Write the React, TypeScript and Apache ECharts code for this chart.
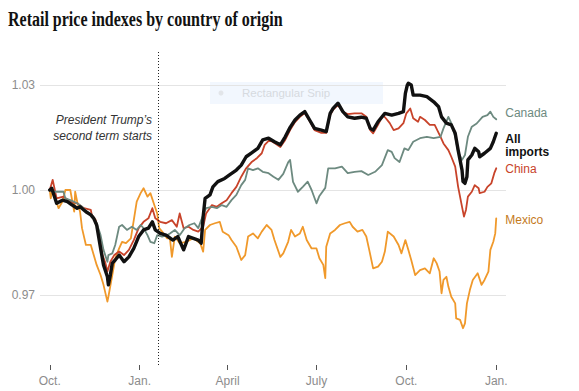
import React, { useEffect, useRef } from "react";
import * as echarts from "echarts";

// Day 0 = Oct. 1, 2024
const TITLE = "Retail price indexes by country of origin";
const ANNOTATION_LINES = ["President Trump’s", "second term starts"];
const INAUGURATION_DAY = 111; // Jan. 20, 2025
const xTickDays = [0, 92, 182, 273, 365, 457];
const xTickLabels = ["Oct.", "Jan.", "April", "July", "Oct.", "Jan."];
const yTickValues = [0.97, 1.0, 1.03];
const yTickLabels = ["0.97", "1.00", "1.03"];

const allImports: [number, number][] = [
  [0, 1.0], [2, 1.0005], [7, 0.9962], [13, 0.9971], [18, 0.9967], [23, 0.9957], [28, 0.9948], [31, 0.9952],
  [37, 0.9938], [42, 0.9929], [45, 0.9919], [48, 0.99], [52, 0.9834], [55, 0.9786], [59, 0.9752], [60, 0.9729],
  [62, 0.9757], [64, 0.9791], [67, 0.98], [71, 0.9814], [76, 0.9795], [81, 0.9809], [86, 0.9833], [91, 0.9867],
  [96, 0.9886], [101, 0.9891], [105, 0.9909], [108, 0.9886], [113, 0.9876], [119, 0.9871], [126, 0.9857],
  [131, 0.9867], [137, 0.9829], [142, 0.9867], [147, 0.9862], [152, 0.9857], [155, 0.9848], [157, 0.9924],
  [159, 0.9976], [164, 0.9986], [167, 1.0009], [172, 1.0024], [179, 1.0033], [184, 1.0043], [191, 1.0057],
  [196, 1.0071], [201, 1.0095], [207, 1.0107], [213, 1.0119], [218, 1.0143], [224, 1.0148], [230, 1.0138],
  [236, 1.0129], [241, 1.0152], [246, 1.0179], [251, 1.02], [256, 1.0214], [261, 1.0224], [266, 1.02],
  [271, 1.0176], [278, 1.0171], [283, 1.0167], [287, 1.0219], [290, 1.0233], [295, 1.0248], [300, 1.0224],
  [305, 1.0209], [312, 1.0205], [319, 1.0208], [324, 1.0205], [328, 1.0176], [331, 1.0171], [336, 1.0195],
  [343, 1.0219], [350, 1.0214], [357, 1.0219], [362, 1.0224], [364, 1.0276], [366, 1.03], [367, 1.0305],
  [370, 1.03], [372, 1.0271], [379, 1.0271], [386, 1.0267], [393, 1.0252], [398, 1.0238], [401, 1.0209],
  [406, 1.0191], [411, 1.0186], [415, 1.0162], [418, 1.0114], [422, 1.0057], [423, 1.0024], [425, 1.0019],
  [427, 1.0038], [428, 1.0086], [432, 1.01], [435, 1.0119], [439, 1.0109], [440, 1.0095], [445, 1.0105],
  [451, 1.0119], [454, 1.0138], [457, 1.0162],
];

const china: [number, number][] = [
  [0, 1.0], [3, 1.0029], [7, 0.9976], [14, 0.9981], [21, 0.9967], [28, 0.9962], [35, 0.9948], [42, 0.9943],
  [43, 0.9929], [47, 0.9914], [50, 0.9881], [54, 0.9814], [57, 0.9791], [59, 0.9767], [62, 0.9795], [66, 0.9814],
  [71, 0.9824], [76, 0.9814], [81, 0.9829], [86, 0.9857], [91, 0.9891], [96, 0.9909], [101, 0.9919], [105, 0.9948],
  [108, 0.9919], [113, 0.9909], [119, 0.9905], [125, 0.9914], [130, 0.9895], [133, 0.9933], [137, 0.9891],
  [142, 0.9895], [147, 0.9886], [152, 0.9881], [157, 0.9895], [160, 0.9933], [166, 0.9957], [171, 0.9952],
  [176, 0.9962], [181, 0.9971], [186, 0.9991], [191, 1.0009], [196, 1.0038], [201, 1.0062], [207, 1.0081],
  [212, 1.0091], [217, 1.0105], [220, 1.0129], [225, 1.0143], [230, 1.0134], [236, 1.0123], [241, 1.0143],
  [246, 1.0171], [251, 1.0194], [256, 1.0209], [261, 1.022], [266, 1.0197], [271, 1.0171], [278, 1.0163],
  [283, 1.0163], [287, 1.0214], [290, 1.0229], [295, 1.0243], [300, 1.0223], [305, 1.0217], [312, 1.0219],
  [319, 1.0219], [324, 1.0209], [328, 1.0171], [331, 1.0162], [336, 1.0186], [341, 1.0214], [344, 1.0205],
  [348, 1.0191], [352, 1.0171], [357, 1.0176], [362, 1.0191], [365, 1.0219], [369, 1.0233], [372, 1.0205],
  [377, 1.0195], [379, 1.0209], [384, 1.02], [389, 1.0186], [394, 1.0186], [400, 1.0152], [403, 1.0133],
  [408, 1.0114], [411, 1.0095], [415, 1.0067], [418, 1.0009], [422, 0.9952], [424, 0.9924], [426, 0.9943],
  [428, 0.9981], [432, 0.9995], [435, 1.0014], [439, 1.0005], [440, 0.9991], [445, 0.9995], [448, 1.0009],
  [452, 1.0019], [455, 1.0048], [457, 1.0062],
];

const canada: [number, number][] = [
  [0, 1.0], [4, 0.9995], [14, 0.9995], [16, 0.9976], [21, 0.9971], [28, 0.9962], [33, 0.9952], [38, 0.9938],
  [43, 0.9929], [48, 0.9905], [52, 0.9871], [55, 0.9829], [59, 0.9795], [60, 0.9814], [64, 0.9819], [67, 0.9843],
  [71, 0.9895], [74, 0.99], [79, 0.9886], [84, 0.9895], [89, 0.9886], [93, 0.99], [96, 0.9891], [100, 0.9871],
  [103, 0.9852], [107, 0.9848], [110, 0.9871], [115, 0.9867], [120, 0.9871], [123, 0.9876], [128, 0.9886],
  [133, 0.9871], [138, 0.9891], [143, 0.99], [148, 0.9905], [152, 0.9891], [155, 0.9914], [160, 0.9948],
  [166, 0.9952], [171, 0.9948], [176, 0.9957], [181, 0.9952], [186, 0.9971], [191, 0.9986], [196, 1.0014],
  [200, 1.0029], [203, 1.0062], [208, 1.0057], [213, 1.0062], [218, 1.0052], [224, 1.0048], [229, 1.0038],
  [234, 1.0029], [239, 1.0046], [244, 1.0079], [246, 1.0086], [249, 1.0023], [254, 0.9995], [259, 1.0009],
  [264, 1.0024], [268, 1.0], [273, 0.9962], [276, 0.9983], [282, 1.0006], [285, 1.0062], [292, 1.0062],
  [299, 1.0067], [305, 1.0048], [312, 1.0052], [319, 1.0054], [326, 1.0043], [333, 1.0052], [340, 1.0071],
  [346, 1.0114], [350, 1.0109], [353, 1.0091], [358, 1.008], [363, 1.0119], [367, 1.0114], [372, 1.0138],
  [379, 1.0148], [386, 1.0152], [393, 1.0148], [400, 1.0152], [403, 1.0176], [408, 1.0209], [411, 1.0191],
  [415, 1.0152], [418, 1.0109], [422, 1.0086], [425, 1.01], [428, 1.0152], [432, 1.0181], [437, 1.019],
  [443, 1.0209], [448, 1.0214], [451, 1.0224], [454, 1.0209], [457, 1.0202],
];

const mexico: [number, number][] = [
  [0, 1.0], [1, 0.9976], [3, 1.0], [9, 0.9948], [13, 0.9967], [16, 1.0], [21, 1.0], [25, 0.9938], [26, 0.9995],
  [28, 0.9967], [31, 0.9938], [33, 0.9891], [37, 0.9843], [42, 0.9843], [45, 0.9814], [48, 0.9786], [52, 0.9757],
  [55, 0.9729], [59, 0.9681], [60, 0.9695], [64, 0.9757], [67, 0.9805], [71, 0.9833], [74, 0.9852], [78, 0.9848],
  [83, 0.9862], [86, 0.9914], [89, 0.9967], [93, 0.9991], [96, 1.0005], [100, 0.9981], [103, 0.9991],
  [107, 0.9957], [110, 0.9933], [112, 0.9891], [115, 0.9881], [120, 0.9862], [123, 0.9862], [125, 0.9809],
  [128, 0.9867], [133, 0.9848], [140, 0.9852], [147, 0.9862], [154, 0.9848], [157, 0.9824], [159, 0.9886],
  [164, 0.99], [169, 0.9905], [174, 0.9909], [177, 0.9881], [183, 0.9871], [186, 0.9857], [191, 0.9838],
  [196, 0.98], [200, 0.9814], [203, 0.9867], [208, 0.9876], [213, 0.9862], [217, 0.9881], [222, 0.99],
  [227, 0.9886], [230, 0.9857], [236, 0.9809], [239, 0.9819], [244, 0.9852], [247, 0.9886], [251, 0.9867],
  [256, 0.9876], [259, 0.9895], [263, 0.9857], [268, 0.9833], [273, 0.9833], [276, 0.9805], [280, 0.9786],
  [282, 0.9748], [283, 0.9838], [287, 0.9876], [292, 0.9886], [297, 0.99], [302, 0.9905], [307, 0.9909],
  [310, 0.9895], [315, 0.9881], [320, 0.9886], [324, 0.9867], [327, 0.9829], [331, 0.9776], [336, 0.9781],
  [340, 0.9795], [343, 0.9824], [346, 0.9881], [352, 0.9867], [357, 0.9843], [360, 0.9819], [364, 0.9857],
  [367, 0.9829], [370, 0.98], [374, 0.9757], [379, 0.9771], [384, 0.9776], [389, 0.9762], [393, 0.9805],
  [396, 0.9791], [399, 0.9767], [401, 0.9705], [403, 0.9743], [406, 0.9752], [408, 0.9724], [411, 0.9695],
  [415, 0.9676], [416, 0.9633], [420, 0.9629], [423, 0.9605], [425, 0.9619], [427, 0.9676], [430, 0.9714],
  [433, 0.9743], [438, 0.9762], [442, 0.9729], [445, 0.9743], [449, 0.9767], [451, 0.9829], [454, 0.9852],
  [456, 0.9876], [457, 0.9919],
];

const SANS = '"Liberation Sans", Arial, sans-serif';

export default function App() {
  const ref = useRef<HTMLDivElement>(null);

  useEffect(() => {
    if (!ref.current) return;
    const chart = echarts.init(ref.current, undefined, { renderer: "svg" });

    const lineSeries = (
      name: string,
      data: [number, number][],
      color: string,
      width: number,
      labelColor: string,
      labelText: string,
      offsetY: number,
      bold: boolean,
      z: number
    ) => ({
      type: "line",
      name,
      data,
      showSymbol: false,
      symbol: "none",
      z,
      lineStyle: { color, width, join: "round", cap: "round" },
      itemStyle: { color },
      emphasis: { disabled: true },
      endLabel: {
        show: true,
        formatter: () => labelText,
        color: labelColor,
        fontSize: 12,
        fontFamily: SANS,
        fontWeight: bold ? "bold" : "normal",
        lineHeight: 13,
        distance: 9,
        offset: [0, offsetY],
      },
    });

    const option: any = {
      animation: false,
      grid: { left: 40, right: 73, top: 50, bottom: 26 },
      xAxis: {
        type: "value",
        min: -10,
        max: 467,
        axisLine: { show: false },
        axisTick: {
          show: true,
          customValues: xTickDays,
          length: 5,
          lineStyle: { color: "#555", width: 1 },
        },
        axisLabel: {
          customValues: xTickDays,
          formatter: (v: number) => {
            const i = xTickDays.indexOf(Math.round(v));
            return i >= 0 ? xTickLabels[i] : "";
          },
          color: "#8c8c8c",
          fontSize: 12,
          fontFamily: SANS,
          margin: 10,
        },
        splitLine: { show: false },
      },
      yAxis: {
        type: "value",
        min: 0.95,
        max: 1.04,
        axisLine: { show: false },
        axisTick: { show: false, customValues: yTickValues },
        axisLabel: {
          customValues: yTickValues,
          formatter: (v: number) => {
            const i = yTickValues.findIndex((t) => Math.abs(t - v) < 1e-6);
            return i >= 0 ? yTickLabels[i] : "";
          },
          color: "#8c8c8c",
          fontSize: 12,
          fontFamily: SANS,
          margin: 5,
        },
        splitLine: { show: true, lineStyle: { color: "#e4e4e4", width: 1 } },
      },
      series: [
        {
          ...lineSeries("Mexico", mexico, "#f0992b", 1.8, "#c47a1c", "Mexico", 2, false, 2),
          markLine: {
            silent: true,
            symbol: "none",
            label: { show: false },
            lineStyle: { color: "#222", width: 1, type: [1, 2] },
            data: [{ xAxis: INAUGURATION_DAY }],
          },
        },
        lineSeries("China", china, "#c8432a", 1.8, "#c8432a", "China", 1, false, 3),
        lineSeries("Canada", canada, "#6d8a80", 1.8, "#6d8a80", "Canada", -6, false, 4),
        lineSeries("All imports", allImports, "#111111", 3.4, "#111111", "All\nimports", 12, true, 5),
      ],
      graphic: [
        {
          type: "text",
          x: 8,
          y: 19,
          scaleX: 0.8,
          style: {
            text: TITLE,
            font: 'bold 20px "Liberation Serif", "Times New Roman", serif',
            fill: "#121212",
            textVerticalAlign: "middle",
          },
        },
        {
          type: "text",
          x: 152,
          y: 120,
          style: {
            text: ANNOTATION_LINES[0],
            font: "italic 12px " + SANS,
            fill: "#333",
            textAlign: "right",
            textVerticalAlign: "middle",
          },
        },
        {
          type: "text",
          x: 152,
          y: 136,
          style: {
            text: ANNOTATION_LINES[1],
            font: "italic 12px " + SANS,
            fill: "#333",
            textAlign: "right",
            textVerticalAlign: "middle",
          },
        },
        {
          type: "rect",
          shape: { x: 210, y: 82, width: 173, height: 22 },
          style: { fill: "#f2f7fe" },
        },
        {
          type: "circle",
          shape: { cx: 221, cy: 93, r: 2.5 },
          style: { fill: "#e2e5e9" },
        },
        {
          type: "text",
          x: 242,
          y: 93,
          style: {
            text: "Rectangular Snip",
            font: "11.5px " + SANS,
            fill: "#d6dadf",
            textVerticalAlign: "middle",
          },
        },
      ],
    };

    chart.setOption(option);
    return () => chart.dispose();
  }, []);

  return (
    <div
      ref={ref}
      style={{ position: "fixed", left: 0, top: 0, width: 579, height: 391, background: "#fff" }}
    />
  );
}
